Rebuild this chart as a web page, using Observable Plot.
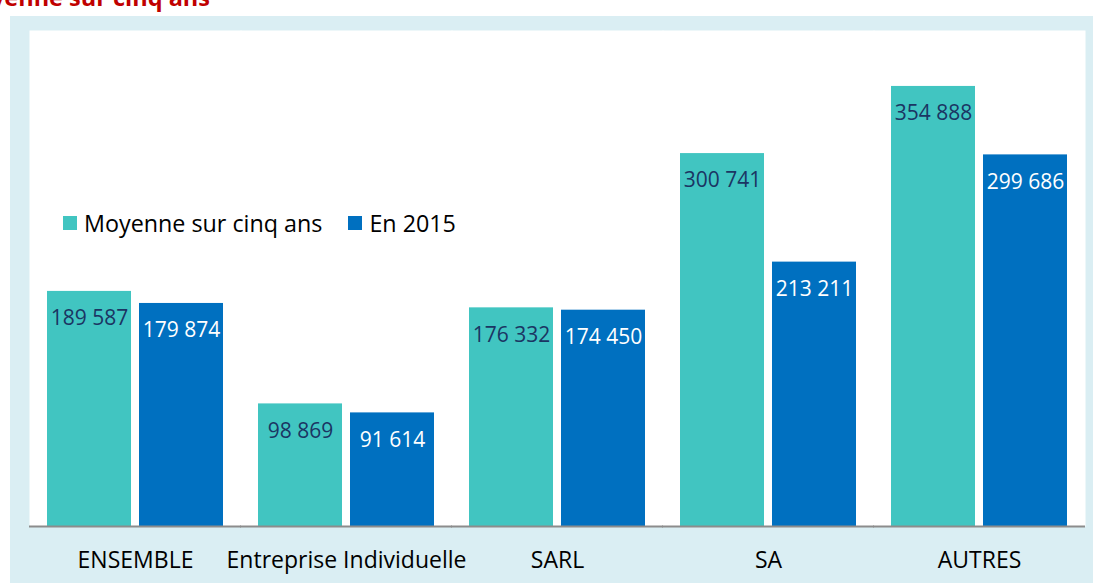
<!DOCTYPE html>
<html>
<head>
<meta charset="utf-8">
<script src="https://cdn.jsdelivr.net/npm/d3@7"></script>
<script src="https://cdn.jsdelivr.net/npm/@observablehq/plot@0.6"></script>
<style>
  html, body { margin: 0; padding: 0; background: #fff; overflow: hidden; }
  body { width: 1093px; height: 583px; position: relative; font-family: "Open Sans", sans-serif; }
  #title { position: absolute; right: 883px; top: -14px; white-space: nowrap; color: #c00000; font-weight: bold; font-size: 23.5px; line-height: 23.5px; }
  #panel { position: absolute; left: 10px; top: 16px; width: 1083px; height: 567px; background: #daeef3; }
  #chart { position: absolute; left: 10px; top: 16px; }
  #legend { position: absolute; left: 63px; top: 207px; display: flex; align-items: center; font-size: 23.3px; color: #000; white-space: nowrap; }
  .sw { width: 14px; height: 14px; display: inline-block; margin-right: 7px; }
</style>
</head>
<body>
<div id="title">Moyenne sur cinq ans</div>
<div id="panel"></div>
<div id="chart"></div>
<div id="legend">
  <span class="sw" style="background:#41c5c1"></span><span>Moyenne sur cinq ans</span>
  <span class="sw" style="background:#0070c0; margin-left:26px"></span><span>En 2015</span>
</div>
<script>
const categories = ["ENSEMBLE", "Entreprise Individuelle", "SARL", "SA", "AUTRES"];
const seriesNames = ["Moyenne sur cinq ans", "En 2015"];
const moyenneValues = [189587, 98869, 176332, 300741, 354888];
const en2015Values = [179874, 91614, 174450, 213211, 299686];
const seriesColors = ["#41c5c1", "#0070c0"];
const labelColors = ["#1b3563", "#ffffff"];

const data = [];
categories.forEach((c, i) => {
  data.push({cat: c, series: seriesNames[0], value: moyenneValues[i]});
  data.push({cat: c, series: seriesNames[1], value: en2015Values[i]});
});
const fmt = v => d3.format(",")(v).replace(/,/g, "\u00a0");

const chart = Plot.plot({
  width: 1083,
  height: 567,
  marginLeft: 18,
  marginRight: 7,
  marginTop: 14,
  marginBottom: 57,
  style: {background: "transparent", fontFamily: "Open Sans, sans-serif"},
  fx: {domain: categories, paddingInner: 0.164, paddingOuter: 0.082, label: null},
  x: {domain: seriesNames, paddingInner: 0.087, paddingOuter: 0, axis: null},
  y: {domain: [0, 400000], axis: null},
  color: {domain: seriesNames, range: seriesColors},
  marks: [
    Plot.frame({fill: "white", stroke: null, insetLeft: -18, insetRight: -18}),
    Plot.barY(data, {fx: "cat", x: "series", y: "value", fill: "series", inset: 0}),
    Plot.ruleY([0], {stroke: "#8c8c8c", strokeWidth: 2, insetLeft: -18, insetRight: -18}),
    Plot.text(data, {
      fx: "cat", x: "series", y: "value",
      text: d => fmt(d.value),
      fill: d => labelColors[seriesNames.indexOf(d.series)],
      dy: 27, lineAnchor: "middle", fontSize: 21
    }),
    Plot.axisFx({anchor: "bottom", tickSize: 0, tickPadding: 25, fontSize: 23, fill: "#000", label: null})
  ]
});
document.getElementById("chart").appendChild(chart);
</script>
</body>
</html>
